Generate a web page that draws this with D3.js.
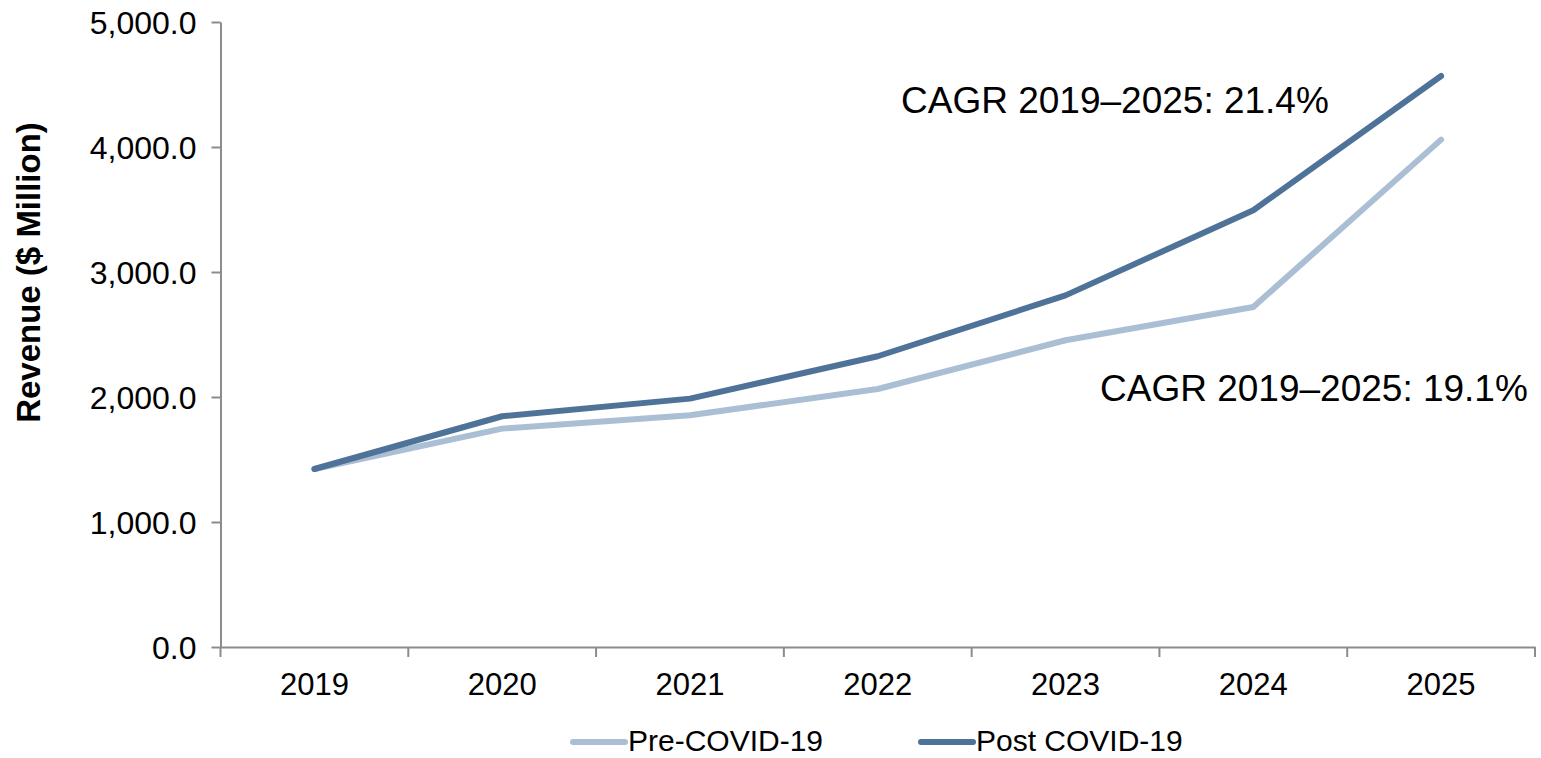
<!DOCTYPE html>
<html>
<head>
<meta charset="utf-8">
<script src="https://cdn.jsdelivr.net/npm/d3@7"></script>
<style>
  html, body { margin: 0; padding: 0; background: #fff; }
  svg { display: block; font-family: "Liberation Sans", Arial, sans-serif; }
</style>
</head>
<body>
<svg id="chart" width="1541" height="758"></svg>
<script>
// Revenue forecast, $ million
const years = ["2019", "2020", "2021", "2022", "2023", "2024", "2025"];
const preCovid = [1424, 1747, 1854, 2064, 2454, 2720, 4059];
const postCovid = [1424, 1846, 1987, 2326, 2813, 3494, 4568];
const yTicks = [0, 1000, 2000, 3000, 4000, 5000];
const seriesNames = ["Pre-COVID-19", "Post COVID-19"];
const seriesColors = ["#abbfd4", "#4f7398"];
const cagrLabels = ["CAGR 2019\u20132025: 19.1%", "CAGR 2019\u20132025: 21.4%"];

const svg = d3.select("#chart");
const plotLeft = 220.5, plotRight = 1535, plotTop = 22, plotBottom = 647;
const axisColor = "#8c8c8c";

const x = d3.scaleBand().domain(years).range([plotLeft, plotRight]).padding(0);
const y = d3.scaleLinear().domain([0, 5000]).range([plotBottom, plotTop]);
const cx = d => x(d) + x.bandwidth() / 2;

// Y axis
const yAxis = svg.append("g")
  .attr("transform", `translate(${plotLeft},0)`)
  .call(d3.axisLeft(y).tickValues(yTicks).tickFormat(d3.format(",.1f"))
    .tickSize(9).tickSizeOuter(0).tickPadding(15));
yAxis.select(".domain").attr("stroke", axisColor).attr("stroke-width", 2);
yAxis.selectAll(".tick line").attr("stroke", axisColor).attr("stroke-width", 2);
yAxis.selectAll(".tick text")
  .attr("fill", "#000").attr("font-size", 32)
  .attr("font-family", "Liberation Sans, Arial, sans-serif")
  .attr("dy", "0.35em");

// X axis: labels centred in each band, ticks on band boundaries
const xAxis = svg.append("g")
  .attr("transform", `translate(0,${plotBottom})`)
  .call(d3.axisBottom(x).tickSize(0).tickSizeOuter(0).tickPadding(26));
xAxis.select(".domain").attr("stroke", axisColor).attr("stroke-width", 2);
xAxis.selectAll(".tick text")
  .attr("fill", "#000").attr("font-size", 31)
  .attr("font-family", "Liberation Sans, Arial, sans-serif");
const boundaries = years.map(d => x(d)).concat([x(years[years.length - 1]) + x.bandwidth()]);
xAxis.selectAll("line.bound")
  .data(boundaries)
  .join("line")
  .attr("class", "bound")
  .attr("x1", d => d).attr("x2", d => d)
  .attr("y1", 0).attr("y2", 10)
  .attr("stroke", axisColor).attr("stroke-width", 2);

// Y axis title
svg.append("text")
  .attr("transform", `translate(40,${(plotTop + plotBottom) / 2 - 62}) rotate(-90)`)
  .attr("text-anchor", "middle")
  .attr("font-size", 33)
  .attr("font-weight", "bold")
  .attr("fill", "#000")
  .text("Revenue ($ Million)");

// Lines
const line = d3.line().x((d, i) => cx(years[i])).y(d => y(d));
[preCovid, postCovid].forEach((vals, k) => {
  svg.append("path")
    .datum(vals)
    .attr("d", line)
    .attr("fill", "none")
    .attr("stroke", seriesColors[k])
    .attr("stroke-width", 6)
    .attr("stroke-linecap", "round")
    .attr("stroke-linejoin", "round");
});

// CAGR annotations
svg.append("text")
  .attr("x", 901).attr("y", 113)
  .attr("font-size", 37).attr("fill", "#000")
  .text(cagrLabels[1]);
svg.append("text")
  .attr("x", 1100).attr("y", 401)
  .attr("font-size", 37).attr("fill", "#000")
  .text(cagrLabels[0]);

// Legend
const legendItems = [
  { x: 573, name: seriesNames[0], color: seriesColors[0] },
  { x: 921, name: seriesNames[1], color: seriesColors[1] }
];
const lg = svg.append("g");
legendItems.forEach(it => {
  lg.append("line")
    .attr("x1", it.x).attr("x2", it.x + 52)
    .attr("y1", 742).attr("y2", 742)
    .attr("stroke", it.color).attr("stroke-width", 6)
    .attr("stroke-linecap", "round");
  lg.append("text")
    .attr("x", it.x + 55).attr("y", 751)
    .attr("font-size", 30).attr("fill", "#000")
    .text(it.name);
});
</script>
</body>
</html>
